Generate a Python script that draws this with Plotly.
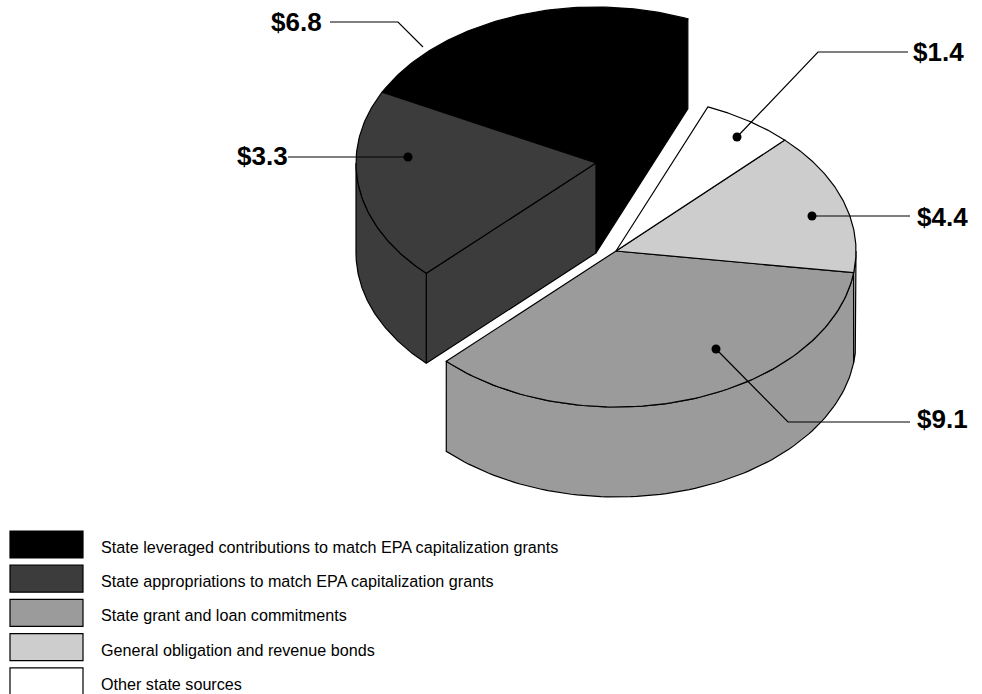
import numpy as np
import plotly.graph_objects as go

categories = [
    "State leveraged contributions to match EPA capitalization grants",
    "State appropriations to match EPA capitalization grants",
    "State grant and loan commitments",
    "General obligation and revenue bonds",
    "Other state sources",
]
value_labels = ["$6.8", "$3.3", "$9.1", "$4.4", "$1.4"]
# Drawn sweep of each slice in degrees
sweeps = [85.5, 72.0, 127.0, 53.3, 22.2]
colors = ["#000000", "#3c3c3c", "#9b9b9b", "#cdcdcd", "#ffffff"]

START = 67.5
RX, RY, DEPTH = 240, 156, 90
CENTERS = [(596, 163), (596, 163), (616, 251), (616, 251), (616, 251)]
LW = 1.2
FONT = "Liberation Sans"

# label leaders: path from slice to text, text anchor
leaders = [
    ([(423, 47), (398, 22), (330, 22)], False, (324, 22), "right"),
    ([(408, 157), (288, 157)], True, (290, 156), "right"),
    ([(716, 349), (788, 422), (910, 422)], True, (915, 419), "left"),
    ([(812, 216), (910, 216)], True, (915, 217), "left"),
    ([(737, 137), (818, 52), (908, 52)], True, (911, 52), "left"),
]

fig = go.Figure()


def poly(xs, ys, fill, name):
    fig.add_trace(go.Scatter(
        x=xs, y=ys, mode="lines", fill="toself", fillcolor=fill, name=name,
        line=dict(color="#000000", width=LW), hoverinfo="skip", showlegend=False))


def arc(c, a, b, dy=0):
    t = np.radians(np.linspace(a, b, 90))
    return c[0] + RX * np.cos(t), c[1] - RY * np.sin(t) + dy


def wedge(i, a, b):
    x, y = arc(CENTERS[i], a, b)
    poly([CENTERS[i][0], *x, CENTERS[i][0]], [CENTERS[i][1], *y, CENTERS[i][1]], colors[i], categories[i])


def wall(i, a, b):
    a, b = max(a, 180), min(b, 360)
    if b <= a:
        return
    x, y = arc(CENTERS[i], a, b)
    xl, yl = arc(CENTERS[i], b, a, DEPTH)
    poly([*x, *xl, x[0]], [*y, *yl, y[0]], colors[i], categories[i])


def face(i, a):
    c = CENTERS[i]
    x, y = arc(c, a, a)
    poly([c[0], x[0], x[0], c[0], c[0]], [c[1], y[0], y[0] + DEPTH, c[1] + DEPTH, c[1]], colors[i], categories[i])


edges = START + np.concatenate([[0], np.cumsum(sweeps)])

# left (exploded) group
face(0, edges[0])
wedge(0, edges[0], edges[1])
face(1, edges[2])
wall(1, edges[1], edges[2])
wedge(1, edges[1], edges[2])
# right group
wall(2, edges[2], edges[3])
wall(3, edges[3], edges[4])
for i in (2, 3, 4):
    wedge(i, edges[i], edges[i + 1])

annotations = []
for (path, dot, tpos, anchor), lab in zip(leaders, value_labels):
    fig.add_trace(go.Scatter(
        x=[p[0] for p in path], y=[p[1] for p in path], mode="lines",
        line=dict(color="#000000", width=LW), hoverinfo="skip", showlegend=False))
    if dot:
        fig.add_trace(go.Scatter(
            x=[path[0][0]], y=[path[0][1]], mode="markers",
            marker=dict(color="#000000", size=9), hoverinfo="skip", showlegend=False))
    annotations.append(dict(
        x=tpos[0], y=tpos[1], xref="x", yref="y", text=f"<b>{lab}</b>", showarrow=False,
        xanchor=anchor, yanchor="middle", font=dict(family=FONT, size=26, color="#000000")))

# legend block
shapes = []
for k, (cat, col) in enumerate(zip(categories, colors)):
    top = 531 + 34.2 * k
    shapes.append(dict(type="rect", xref="x", yref="y", x0=10, x1=83, y0=top, y1=top + 27,
                       fillcolor=col, line=dict(color="#000000", width=LW)))
    annotations.append(dict(
        x=99, y=top + 16, xref="x", yref="y", text=cat, showarrow=False, xanchor="left",
        yanchor="middle", font=dict(family=FONT, size=16.15, color="#000000")))

fig.update_layout(
    width=982, height=694, margin=dict(l=0, r=0, t=0, b=0),
    paper_bgcolor="#ffffff", plot_bgcolor="#ffffff", showlegend=False,
    xaxis=dict(range=[0, 982], visible=False, fixedrange=True),
    yaxis=dict(range=[694, 0], visible=False, fixedrange=True),
    annotations=annotations, shapes=shapes,
)
fig.write_html("out.html", config={"displayModeBar": False},
               post_script="document.body.style.margin='0';document.body.style.overflow='hidden';")
